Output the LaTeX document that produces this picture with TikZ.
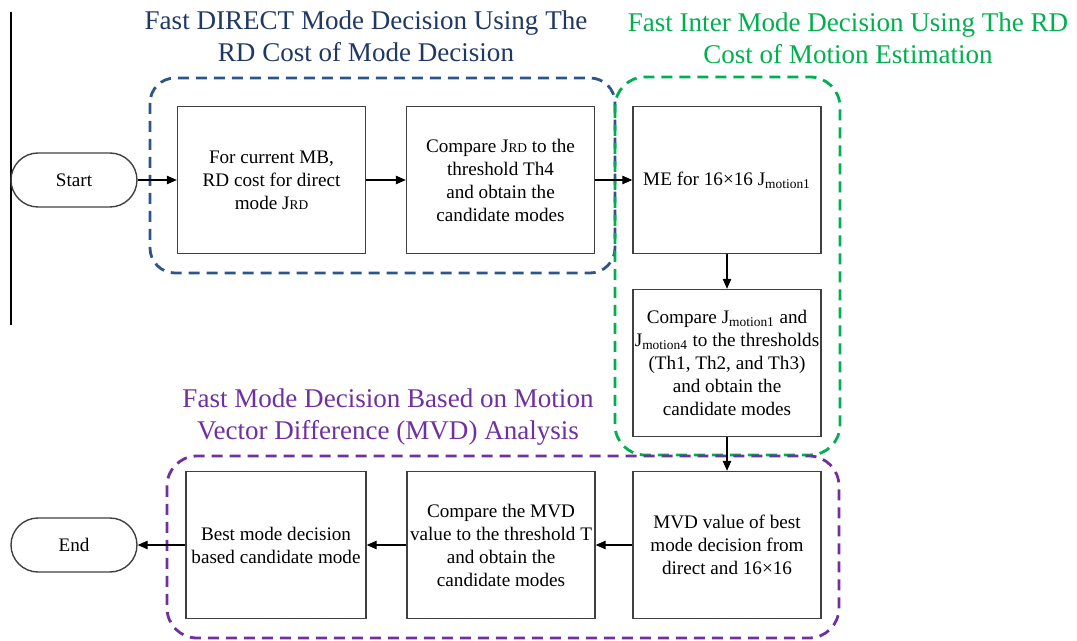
\documentclass[tikz,border=0pt]{standalone}
\usepackage{fontspec}
\setmainfont{Liberation Serif}
\usetikzlibrary{arrows.meta}
\definecolor{dirblue}{RGB}{46,84,140}
\definecolor{dirtxt}{RGB}{31,56,100}
\definecolor{intgreen}{RGB}{0,176,80}
\definecolor{mvdpurple}{RGB}{112,48,160}
\newcommand{\Jrd}{J{\fontsize{7.6}{9}\selectfont RD}}
\newcommand{\Jm}[1]{J\textsubscript{motion#1}}
\tikzset{
  >={Triangle[length=2mm,width=1.7mm]},
  blk/.style={draw=black!75,line width=0.8pt,minimum width=3.76cm,minimum height=2.94cm,align=center,inner sep=1pt,font=\fontsize{10.9}{13.1}\selectfont},
  term/.style={draw=black!75,line width=0.8pt,rounded corners=0.54cm,minimum width=2.52cm,minimum height=1.08cm,font=\fontsize{10.9}{13.1}\selectfont},
  grp/.style={dash pattern=on 0.22cm off 0.14cm,line width=1.6pt,rounded corners=0.5cm},
  ttl/.style={align=center,font=\fontsize{15.4}{18.2}\selectfont},
}
\begin{document}
\begin{tikzpicture}[x=0.02cm,y=-0.02cm]
\useasboundingbox (0,0) rectangle (1077,641);
\draw[line width=0.8pt] (11,12) -- (11,325);
\node[ttl,text=dirtxt] (tdirect) at (366,36) {Fast DIRECT Mode Decision Using The\\RD Cost of Mode Decision};
\node[ttl,text=intgreen] (tinter) at (848,38) {Fast Inter Mode Decision Using The RD\\Cost of Motion Estimation};
\node[ttl,text=mvdpurple] (tmvd) at (388,417) {Fast Mode Decision Based on Motion\\Vector Difference (MVD) Analysis};
\draw[grp,dirblue] (150,78) rectangle (615,273);
\draw[grp,intgreen,rounded corners=0.6cm] (615,77) rectangle (840,455);
\draw[grp,mvdpurple,rounded corners=0.6cm] (167,456) rectangle (839,638);
\node[term] (start) at (74,180) {Start};
\node[blk] (mb) at (271.5,180) {For current MB,\\RD cost for direct\\mode \Jrd};
\node[blk] (cmpjrd) at (500.5,180) {Compare \Jrd{} to the\\threshold Th4\\and obtain the\\candidate modes};
\node[blk] (me) at (727,180) {ME for 16×16 \Jm{1}};
\node[blk] (cmpjm) at (727,363) {Compare \Jm{1} and\\\Jm{4} to the thresholds\\(Th1, Th2, and Th3)\\and obtain the\\candidate modes};
\node[blk] (mvd) at (727,545) {MVD value of best\\mode decision from\\direct and 16×16};
\node[blk] (cmpmvd) at (501,545) {Compare the MVD\\value to the threshold T\\and obtain the\\candidate modes};
\node[blk,minimum width=3.6cm] (best) at (276,545) {Best mode decision\\based candidate mode};
\node[term] (endn) at (74,545) {End};
\begin{scope}[->,line width=0.6pt]
\foreach \a/\b in {start/mb,mb/cmpjrd,cmpjrd/me,me/cmpjm,cmpjm/mvd,mvd/cmpmvd,cmpmvd/best,best/endn}
  \draw (\a)--(\b);
\end{scope}
\end{tikzpicture}
\end{document}
